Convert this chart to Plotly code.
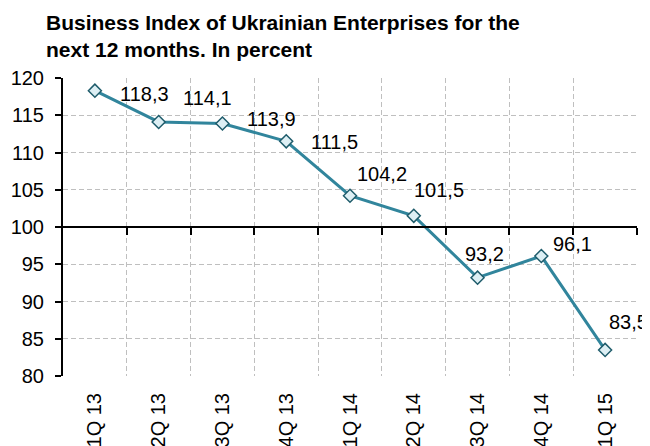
import plotly.graph_objects as go

# ---- data ----
quarters = ["1Q 13", "2Q 13", "3Q 13", "4Q 13", "1Q 14", "2Q 14", "3Q 14", "4Q 14", "1Q 15"]
index_values = [118.3, 114.1, 113.9, 111.5, 104.2, 101.5, 93.2, 96.1, 83.5]
y_ticks = [80, 85, 90, 95, 100, 105, 110, 115, 120]

# ---- styles ----
FONT = "Arial, 'Liberation Sans', sans-serif"
LINE_COLOR = "#31859C"
GRID_COLOR = "#BFBFBF"
# per-label pixel offsets (label centre relative to point), as in the original
label_dx = [50, 49, 49, 48, 32, 25, 7, 31, 23]
label_dy = [-3, 24, 4, -1, 22, 26, 24, 12, 28]

# the page body adds an 8px margin, so the figure is drawn 8px smaller
W, H = 642, 438

x_idx = list(range(len(quarters)))
boundaries = [i + 0.5 for i in x_idx]

fig = go.Figure()
fig.add_trace(go.Scatter(
    x=x_idx, y=index_values, mode="lines+markers",
    line=dict(color=LINE_COLOR, width=3),
    marker=dict(symbol="diamond", size=10, color="#DDEFF4",
                line=dict(color="#1F5C6B", width=1.5)),
    showlegend=False, hoverinfo="skip", cliponaxis=False,
))
# empty helper trace so the crossing axis (at 100) exists
fig.add_trace(go.Scatter(x=[], y=[], xaxis="x2", yaxis="y",
                         showlegend=False, hoverinfo="skip"))

for i, v in enumerate(index_values):
    fig.add_annotation(
        x=x_idx[i], y=v, text=f"{v:.1f}".replace(".", ","),
        showarrow=False, xanchor="center", yanchor="middle",
        xshift=label_dx[i], yshift=label_dy[i],
        font=dict(family=FONT, size=20, color="black"),
    )

fig.update_layout(
    width=W, height=H,
    margin=dict(l=55, r=13, t=70, b=70, autoexpand=False),
    paper_bgcolor="white", plot_bgcolor="white",
    font=dict(family=FONT, size=20, color="black"),
    title=dict(
        text="Business Index of Ukrainian Enterprises for the<br>next 12 months. In percent",
        font=dict(family=FONT, size=21, color="black", weight="bold"),
        x=38 / W, xanchor="left", xref="container",
        y=1 - 22 / H, yanchor="top", yref="container",
        automargin=False,
    ),
    xaxis=dict(
        range=[-0.5, 8.5], automargin=False,
        tickmode="array", tickvals=x_idx, ticktext=quarters,
        tickangle=-90, showgrid=False, zeroline=False, showline=False,
        ticks="outside", ticklen=8, tickcolor="rgba(0,0,0,0)",
        tickfont=dict(family=FONT, size=20, color="black"),
        minor=dict(tickmode="array", tickvals=boundaries, showgrid=True,
                   gridcolor=GRID_COLOR, gridwidth=1, griddash="5px,3px",
                   ticks=""),
    ),
    xaxis2=dict(
        overlaying="x", anchor="free", position=0.5, side="bottom",
        range=[-0.5, 8.5], automargin=False,
        tickmode="array", tickvals=boundaries,
        showticklabels=False, showgrid=False, zeroline=False,
        showline=True, linecolor="black", linewidth=2,
        ticks="outside", ticklen=7, tickwidth=2, tickcolor="black",
    ),
    yaxis=dict(
        range=[80, 120], automargin=False,
        tickmode="array", tickvals=y_ticks,
        showgrid=True, gridcolor=GRID_COLOR, gridwidth=1, griddash="5px,3px",
        zeroline=False, showline=True, linecolor="black", linewidth=2,
        ticks="outside", ticklen=6, tickwidth=2, tickcolor="black",
        ticklabelstandoff=7,
        tickfont=dict(family=FONT, size=20, color="black"),
    ),
)

fig.write_html("out.html")
